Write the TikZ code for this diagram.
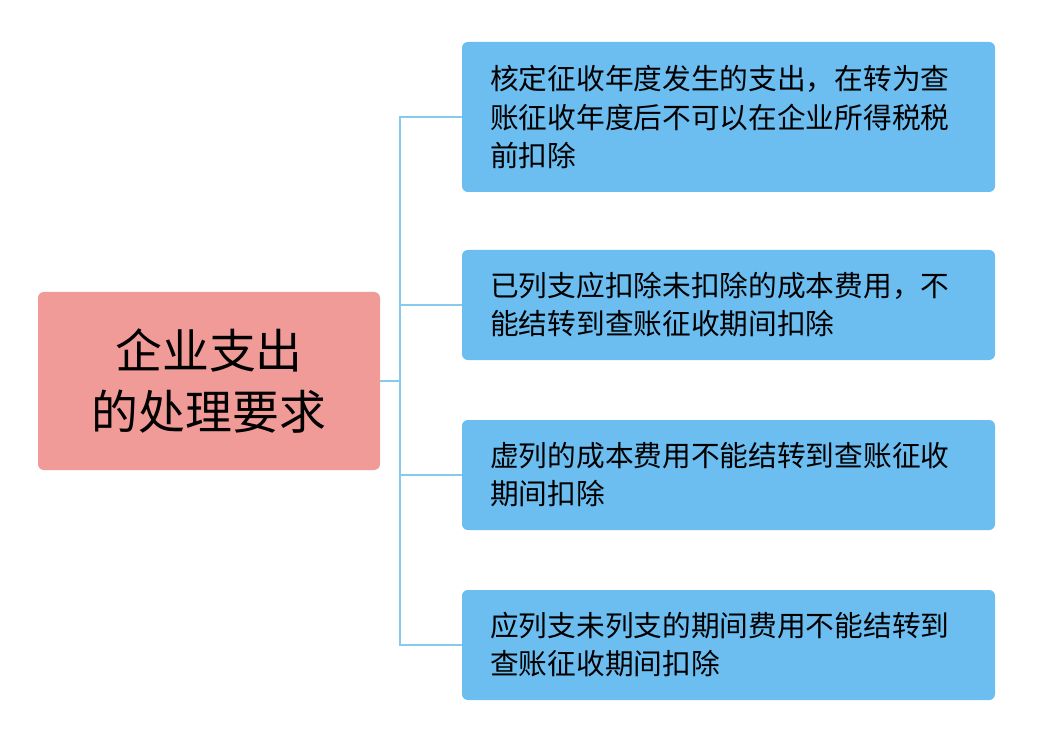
\documentclass[tikz,border=0pt]{standalone}
\usepackage{fontspec}
\newfontfamily\cjk{Noto Sans CJK SC}
\begin{document}
\begin{tikzpicture}[x=0.03cm,y=-0.03cm,
  box/.style={draw=none,fill=boxblue,rounded corners=5pt},
  txt/.style={anchor=west,align=left,font=\cjk\fontsize{24.5}{32.5}\selectfont,inner sep=0pt},
  conn/.style={draw=lineblue,line width=2.2pt}]
\definecolor{boxblue}{HTML}{6CBDF0}
\definecolor{lineblue}{HTML}{86CBEB}
\definecolor{pinkbox}{HTML}{F19B98}
\useasboundingbox (0,0) rectangle (1047,741);
\fill[white] (0,0) rectangle (1047,741);
\fill[pinkbox,rounded corners=5pt] (38,292) rectangle (380,470);
\node[align=center,font=\cjk\fontsize{40}{52}\selectfont,inner sep=0pt] (root) at (209,381) {企业支出\\的处理要求};
\coordinate (rootR) at (380,381);
\coordinate (trunk) at (400,381);
\fill[boxblue,rounded corners=5pt] (462,42) rectangle (995,192);
\fill[boxblue,rounded corners=5pt] (462,250) rectangle (995,360);
\fill[boxblue,rounded corners=5pt] (462,420) rectangle (995,530);
\fill[boxblue,rounded corners=5pt] (462,590) rectangle (995,700);
\coordinate (b1) at (462,117);
\coordinate (b2) at (462,305);
\coordinate (b3) at (462,475);
\coordinate (b4) at (462,645);
\node[txt] (t1) at (490,117) {核定征收年度发生的支出，在转为查\\账征收年度后不可以在企业所得税税\\前扣除};
\node[txt] (t2) at (490,305) {已列支应扣除未扣除的成本费用，不\\能结转到查账征收期间扣除};
\node[txt] (t3) at (490,475) {虚列的成本费用不能结转到查账征收\\期间扣除};
\node[txt] (t4) at (490,645) {应列支未列支的期间费用不能结转到\\查账征收期间扣除};
\draw[conn] (rootR) -- (trunk);
\draw[conn] (b1) -| (trunk);
\draw[conn] (b4) -| (trunk);
\draw[conn] (b2) -- (b2 -| trunk);
\draw[conn] (b3) -- (b3 -| trunk);
\end{tikzpicture}
\end{document}
